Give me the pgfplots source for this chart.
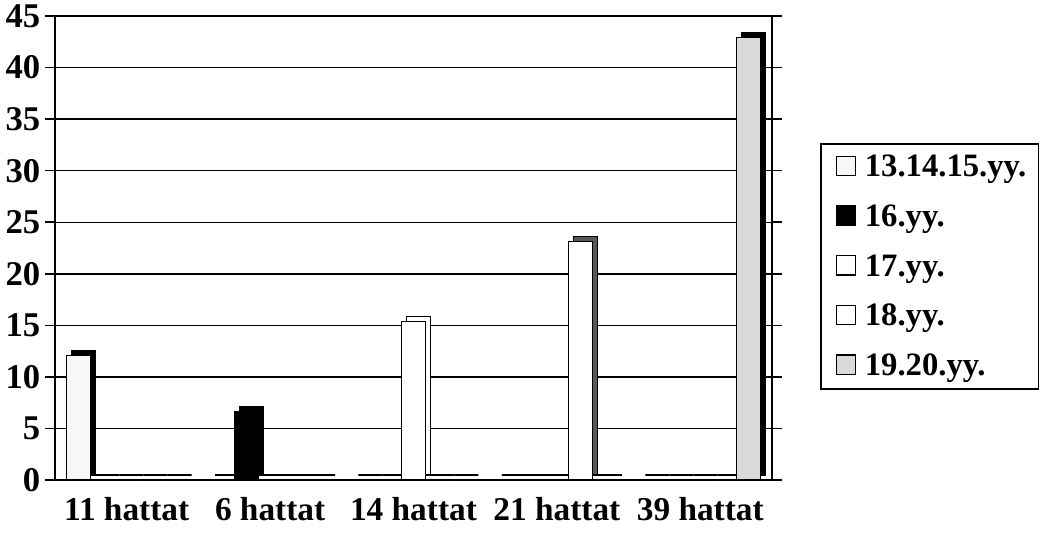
\documentclass[border=0pt]{standalone}
\usepackage{fontspec}
\setmainfont{Liberation Serif}
\usepackage{pgfplots}
\pgfplotsset{compat=1.18}
\begin{document}
\begin{tikzpicture}[x=1pt,y=1pt]
\path (0,0) rectangle (785.25,402.75);
\begin{axis}[
  at={(41.25pt,45pt)}, anchor=south west,
  scale only axis, width=537.75pt, height=348pt,
  xmin=-0.5, xmax=4.5, ymin=0, ymax=45,
  ytick={0,5,...,45},
  xtick={0,1,2,3,4},
  xticklabels={11 hattat,6 hattat,14 hattat,21 hattat,39 hattat},
  extra x ticks={0.5,1.5,2.5,3.5,4.5},
  extra x tick labels={},
  extra x tick style={major tick length=6pt, grid=none, tick style={draw=black,line width=1pt}},
  x tick style={draw=none},
  y tick style={black,line width=1.2pt},
  tick align=outside, major tick length=7.5pt,
  ybar=0pt, bar width=18pt,
  ymajorgrids, grid style={black,line width=1.1pt},
  axis line style={black,line width=1.2pt},
  /pgf/number format/assume math mode=true,
  yticklabel style={font=\fontsize{26}{28}\selectfont\bfseries},
  xticklabel style={font=\fontsize{25}{27}\selectfont\bfseries, yshift=-2pt},
  legend style={at={(1.067,0.726)}, anchor=north west, draw=black, line width=1.2pt,
    font=\fontsize{24.5}{26}\selectfont\bfseries, row sep=15.5pt, inner xsep=7pt, inner ysep=6.5pt},
  legend cell align=left,
  legend image code/.code={\path[draw=none,fill=none] (0pt,0pt) -- (24pt,0pt); \draw[#1,draw=black,line width=0.9pt] (4.5pt,-6.5pt) rectangle (19pt,8pt);},
]
% series 1
\addplot[bar shift=-36pt, fill=black, draw=black, line width=0.8pt, xshift=3.75pt, yshift=3.75pt, forget plot]
  coordinates {(0,12.1) (1,0) (2,0) (3,0) (4,0)};
\addplot[bar shift=-36pt, fill=gray!6, draw=black, line width=0.8pt]
  coordinates {(0,12.1) (1,0) (2,0) (3,0) (4,0)};
% series 2
\addplot[bar shift=-18pt, fill=black, draw=black, line width=0.8pt, xshift=3.75pt, yshift=3.75pt, forget plot]
  coordinates {(0,0) (1,6.6) (2,0) (3,0) (4,0)};
\addplot[bar shift=-18pt, fill=black, draw=black, line width=0.8pt]
  coordinates {(0,0) (1,6.6) (2,0) (3,0) (4,0)};
% series 3
\addplot[bar shift=0pt, fill=white, draw=black, line width=0.8pt, xshift=3.75pt, yshift=3.75pt, forget plot]
  coordinates {(0,0) (1,0) (2,15.4) (3,0) (4,0)};
\addplot[bar shift=0pt, fill=white, draw=black, line width=0.8pt]
  coordinates {(0,0) (1,0) (2,15.4) (3,0) (4,0)};
% series 4
\addplot[bar shift=18pt, fill=gray!70!black, draw=black, line width=0.8pt, xshift=3.75pt, yshift=3.75pt, forget plot]
  coordinates {(0,0) (1,0) (2,0) (3,23.1) (4,0)};
\addplot[bar shift=18pt, fill=white, draw=black, line width=0.8pt]
  coordinates {(0,0) (1,0) (2,0) (3,23.1) (4,0)};
% series 5
\addplot[bar shift=36pt, fill=black, draw=black, line width=0.8pt, xshift=3.75pt, yshift=3.75pt, forget plot]
  coordinates {(0,0) (1,0) (2,0) (3,0) (4,42.9)};
\addplot[bar shift=36pt, fill=gray!30, draw=black, line width=0.8pt]
  coordinates {(0,0) (1,0) (2,0) (3,0) (4,42.9)};
\legend{13.14.15.yy.,16.yy.,17.yy.,18.yy.,19.20.yy.}
\end{axis}
\end{tikzpicture}
\end{document}
